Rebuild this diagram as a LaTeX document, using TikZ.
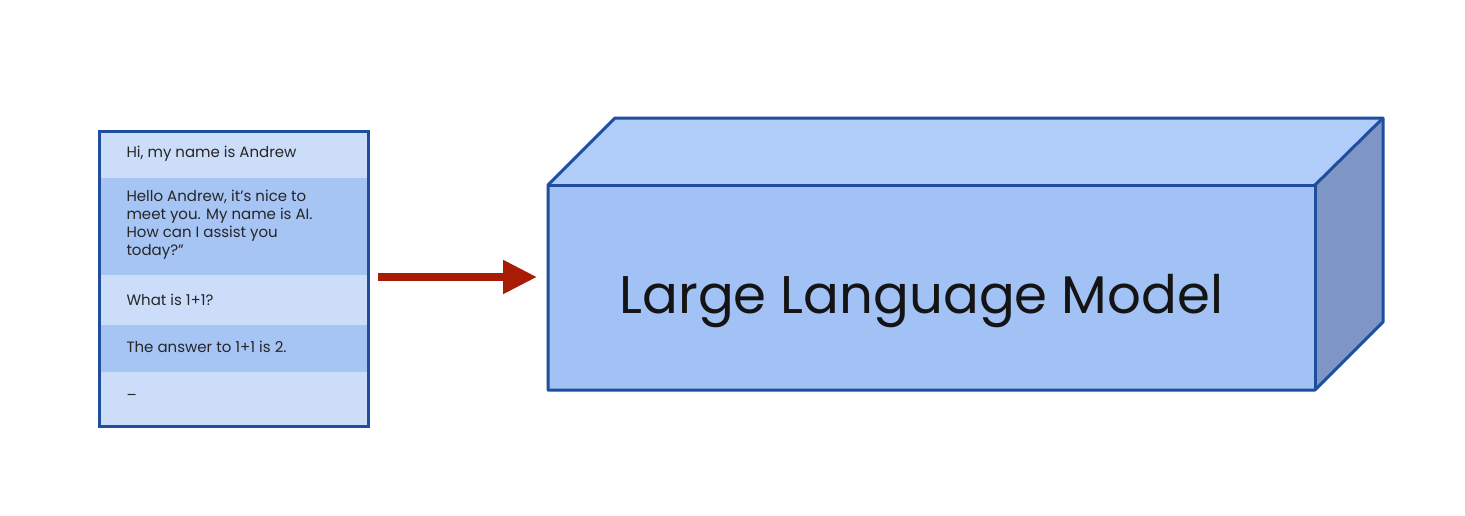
\documentclass[tikz,border=0pt]{standalone}
\usepackage{fontspec}
\usetikzlibrary{arrows.meta}
\setmainfont{Poppins}
\definecolor{edge}{HTML}{1F4E9E}
\definecolor{rowlight}{HTML}{CCDDFA}
\definecolor{rowdark}{HTML}{A6C4F4}
\definecolor{front}{HTML}{A2C1F5}
\definecolor{topf}{HTML}{B1CDFA}
\definecolor{side}{HTML}{7D96C6}
\definecolor{arrowred}{HTML}{A81B05}
\tikzset{
  rowtxt/.style={anchor=west, font=\fontsize{15}{18}\selectfont, align=left, text=black!85},
  face/.style={draw=edge, line width=3pt, line join=round},
}
\begin{document}
\begin{tikzpicture}[x=1pt,y=-1pt]
\useasboundingbox (0,0) rectangle (1465,515);
\fill[white] (0,0) rectangle (1465,515);
% chat box rows
\fill[rowlight] (98,130) rectangle (367,178);
\fill[rowdark] (98,178) rectangle (367,275);
\fill[rowlight] (98,275) rectangle (367,325);
\fill[rowdark] (98,325) rectangle (367,372);
\fill[rowlight] (98,372) rectangle (367,425);
\node[draw=edge, line width=3pt, minimum width=269pt, minimum height=295pt, inner sep=0pt, anchor=north west] (chat) at (98,130) {};
\node[rowtxt] (t1) at (123,154) {Hi, my name is Andrew};
\node[rowtxt] (t2) at (123,225) {Hello Andrew, it's nice to\\meet you. My name is AI.\\How can I assist you\\today?”};
\node[rowtxt] (t3) at (123,300) {What is 1+1?};
\node[rowtxt] (t4) at (123,347) {The answer to 1+1 is 2.};
\node[rowtxt] (t5) at (123,397) {–};
% cube
\coordinate (fa) at (548,185);
\coordinate (fb) at (1315,185);
\coordinate (fc) at (1315,390);
\coordinate (fd) at (548,390);
\coordinate (ba) at (615,118);
\coordinate (bb) at (1383,118);
\coordinate (bc) at (1383,322);
\fill[topf] (fa) -- (ba) -- (bb) -- (fb) -- cycle;
\fill[side] (fb) -- (bb) -- (bc) -- (fc) -- cycle;
\fill[front] (fa) rectangle (fc);
\draw[face] (fa) -- (ba) -- (bb) -- (bc) -- (fc) -- (fd) -- cycle;
\draw[face] (fa) -- (fb) -- (fc);
\draw[face] (fb) -- (bb);
\node[font=\fontsize{53}{60}\selectfont, text=black!92, anchor=base west] (llm) at (616,313) {Large Language Model};
% arrow
\coordinate (as) at (378,277);
\coordinate (ae) at (537,277);
\draw[arrowred, line width=8pt, -{Triangle[length=34pt,width=32pt]}] (as) -- (ae);
\end{tikzpicture}
\end{document}
